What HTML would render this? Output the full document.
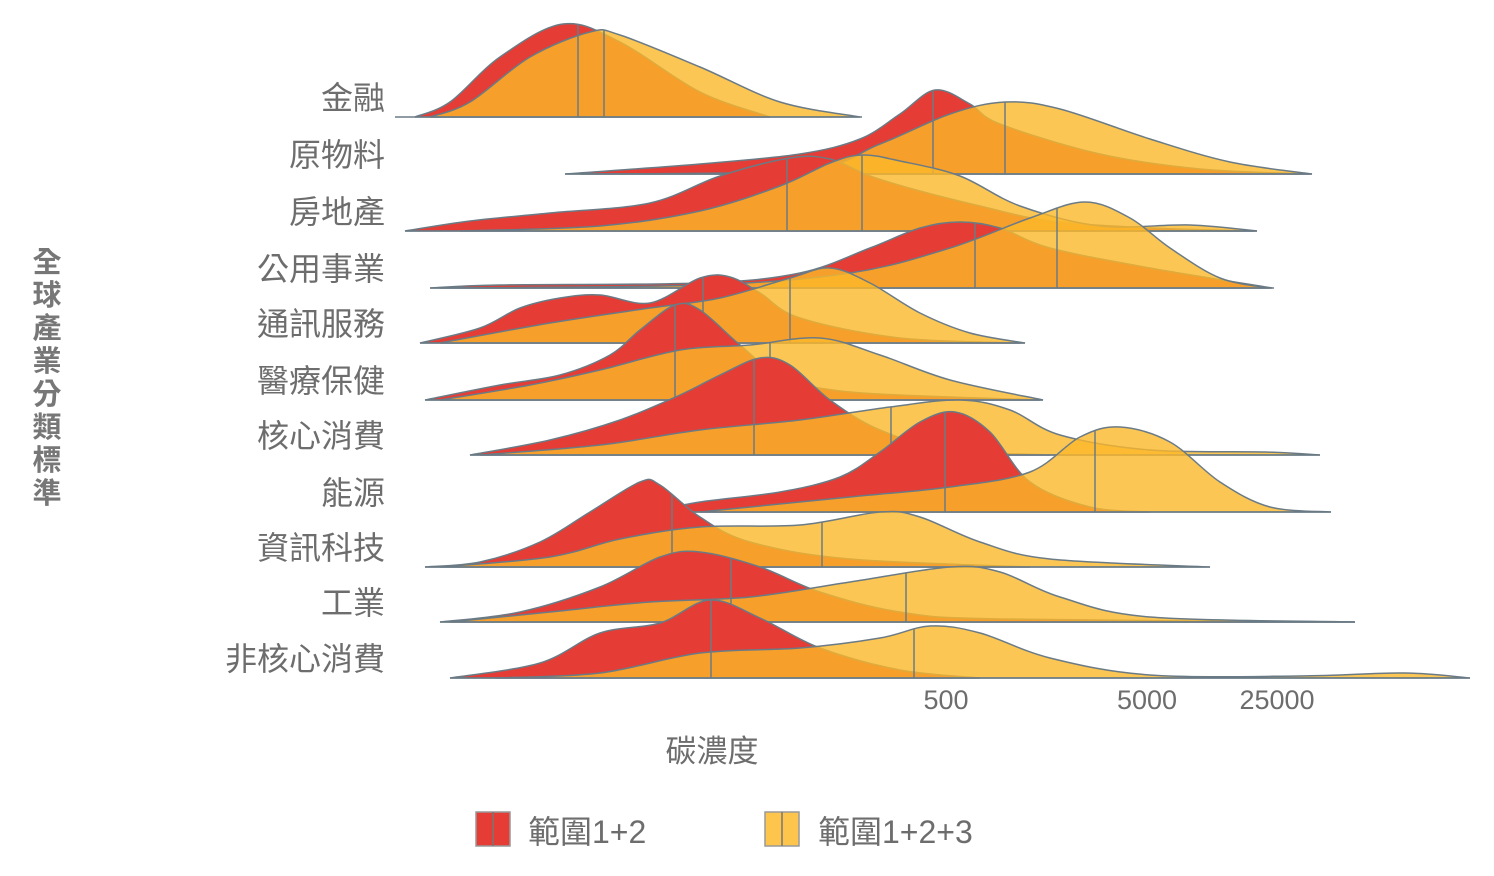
<!DOCTYPE html>
<html><head><meta charset="utf-8"><style>
body{margin:0;background:#fff;width:1494px;height:871px;overflow:hidden}
svg text{font-family:"Liberation Sans","Noto Sans CJK TC",sans-serif;fill:#6d6d6d}
</style></head><body>
<svg id="s" width="1494" height="871" xmlns="http://www.w3.org/2000/svg"></svg>
<script>
const rows=[
["金融",117,[[415,0],[450,15],[500,60],[563,93],[620,75],[700,25],[770,0]],[[430,0],[470,15],[530,60],[590,85],[620,82],[700,50],[780,15],[860,0]],578,604,395,862],
["原物料",174,[[565,0],[700,10],[800,20],[860,35],[900,60],[935,84],[970,70],[1000,50],[1100,20],[1200,5],[1310,0]],[[580,0],[800,3],[880,30],[950,60],[1005,72],[1060,65],[1150,35],[1230,12],[1312,0]],933,1005,565,1312],
["房地產",231,[[405,0],[470,10],[550,18],[650,28],[720,55],[790,73],[830,72],[870,55],[920,40],[980,25],[1050,10],[1150,3],[1255,0]],[[460,0],[600,5],[700,20],[780,45],[830,68],[862,76],[900,70],[960,55],[1020,25],[1100,5],[1190,6],[1257,0]],787,862,405,1257],
["公用事業",288,[[430,0],[500,3],[700,5],[800,15],[870,40],[920,60],[960,66],[1000,60],[1050,40],[1150,20],[1272,0]],[[440,0],[700,3],[850,15],[950,40],[1030,70],[1085,86],[1130,70],[1170,40],[1220,10],[1270,0]],975,1057,430,1274],
["通訊服務",343,[[420,0],[480,15],[520,35],[560,45],[600,48],[650,40],[700,65],[730,66],[760,50],[800,25],[900,5],[1020,0]],[[440,0],[550,20],[650,35],[720,45],[790,65],[830,75],[870,60],[920,30],[970,10],[1025,0]],703,790,420,1025],
["醫療保健",400,[[425,0],[500,15],[560,25],[610,45],[640,70],[675,95],[700,90],[740,55],[780,25],[850,8],[1040,0]],[[440,0],[530,15],[600,30],[680,50],[750,55],[820,62],[880,45],[950,20],[1043,0]],675,770,425,1043],
["核心消費",455,[[470,0],[550,15],[620,35],[680,60],[720,80],[760,97],[790,90],[830,55],[880,25],[950,5],[1050,0]],[[480,0],[600,10],[700,25],[800,35],[890,48],[960,55],[1010,45],[1060,20],[1150,5],[1265,3],[1320,0]],754,891,470,1320],
["能源",512,[[650,0],[700,10],[780,20],[840,35],[880,60],[920,90],[955,100],[990,80],[1030,30],[1090,5],[1150,0]],[[700,0],[850,15],[950,25],[1030,40],[1080,75],[1120,85],[1170,70],[1220,30],[1270,5],[1331,0]],945,1095,650,1331],
["資訊科技",567,[[425,0],[480,5],[540,25],[590,55],[640,85],[660,82],[700,50],[750,25],[850,8],[1030,0]],[[440,0],[550,10],[620,28],[700,40],[800,42],[880,55],[920,50],[980,25],[1050,8],[1210,0]],672,822,425,1210],
["工業",622,[[440,0],[520,10],[600,35],[660,65],[700,70],[760,55],[820,30],[900,10],[1000,3],[1355,0]],[[450,0],[550,10],[650,20],[750,25],[850,40],[950,55],[1000,50],[1060,25],[1150,5],[1355,0]],731,906,440,1355],
["非核心消費",678,[[450,0],[540,15],[600,45],[660,55],[710,78],[760,60],[820,30],[900,8],[980,0]],[[495,0],[600,5],[700,25],[800,30],[880,40],[930,52],[980,45],[1050,20],[1150,3],[1300,2],[1405,5],[1470,0]],711,914,450,1470]
];
function smooth(pts,b){
 const p=pts.map(q=>[q[0],b-q[1]]);
 let d=`M${p[0][0]},${p[0][1]}`;
 for(let i=0;i<p.length-1;i++){
  const p0=p[i-1]||p[i],p1=p[i],p2=p[i+1],p3=p[i+2]||p2;
  const c1=[p1[0]+(p2[0]-p0[0])/6,p1[1]+(p2[1]-p0[1])/6];
  const c2=[p2[0]-(p3[0]-p1[0])/6,p2[1]-(p3[1]-p1[1])/6];
  d+=` C${c1[0]},${Math.min(b,c1[1])} ${c2[0]},${Math.min(b,c2[1])} ${p2[0]},${p2[1]}`;
 }
 return d;
}
function yAt(d,x){const el=document.createElementNS("http://www.w3.org/2000/svg","path");el.setAttribute("d",d);s.appendChild(el);
 const L=el.getTotalLength();let lo=0,hi=L;for(let i=0;i<40;i++){const m=(lo+hi)/2;if(el.getPointAtLength(m).x<x)lo=m;else hi=m;}const y=el.getPointAtLength(lo).y;el.remove();return y;}
const s=document.getElementById("s");let h="";
const st='stroke="#6b7b85" stroke-width="1.5"';
rows.forEach(r=>{
 const [n,b,R,Y,mr,my,x0,x1]=r;
 const dr=smooth(R,b),dy=smooth(Y,b);
 h+=`<path d="${dr} Z" fill="#e53c35" ${st}/>`;
 h+=`<path d="${dy} Z" fill="#fbb829" fill-opacity="0.8" ${st}/>`;
 h+=`<line x1="${mr}" x2="${mr}" y1="${yAt(dr,mr)}" y2="${b}" ${st}/>`;
 h+=`<line x1="${my}" x2="${my}" y1="${yAt(dy,my)}" y2="${b}" ${st}/>`;
 h+=`<line x1="${x0}" x2="${x1}" y1="${b}" y2="${b}" ${st}/>`;
 h+=`<text x="385" y="${b-8}" text-anchor="end" font-size="32">${n}</text>`;
});
const t="全球產業分類標準";
[...t].forEach((c,i)=>{h+=`<text x="47" y="${272+i*33}" text-anchor="middle" font-size="29" font-weight="bold" style="fill:#777">${c}</text>`});
[["500",946],["5000",1147],["25000",1277]].forEach(a=>{h+=`<text x="${a[1]}" y="709" text-anchor="middle" font-size="27">${a[0]}</text>`});
h+=`<text x="712" y="762" text-anchor="middle" font-size="31">碳濃度</text>`;
h+=`<rect x="476" y="812" width="34" height="34" fill="#e53c35" stroke="#999" stroke-width="1.5"/><line x1="493" x2="493" y1="812" y2="846" stroke="#777" stroke-width="1.5"/>`;
h+=`<text x="528" y="843" font-size="32">範圍1+2</text>`;
h+=`<rect x="765" y="812" width="34" height="34" fill="#fdc54c" stroke="#999" stroke-width="1.5"/><line x1="782" x2="782" y1="812" y2="846" stroke="#777" stroke-width="1.5"/>`;
h+=`<text x="818" y="843" font-size="32">範圍1+2+3</text>`;
s.innerHTML=h;
</script>
</body></html>
